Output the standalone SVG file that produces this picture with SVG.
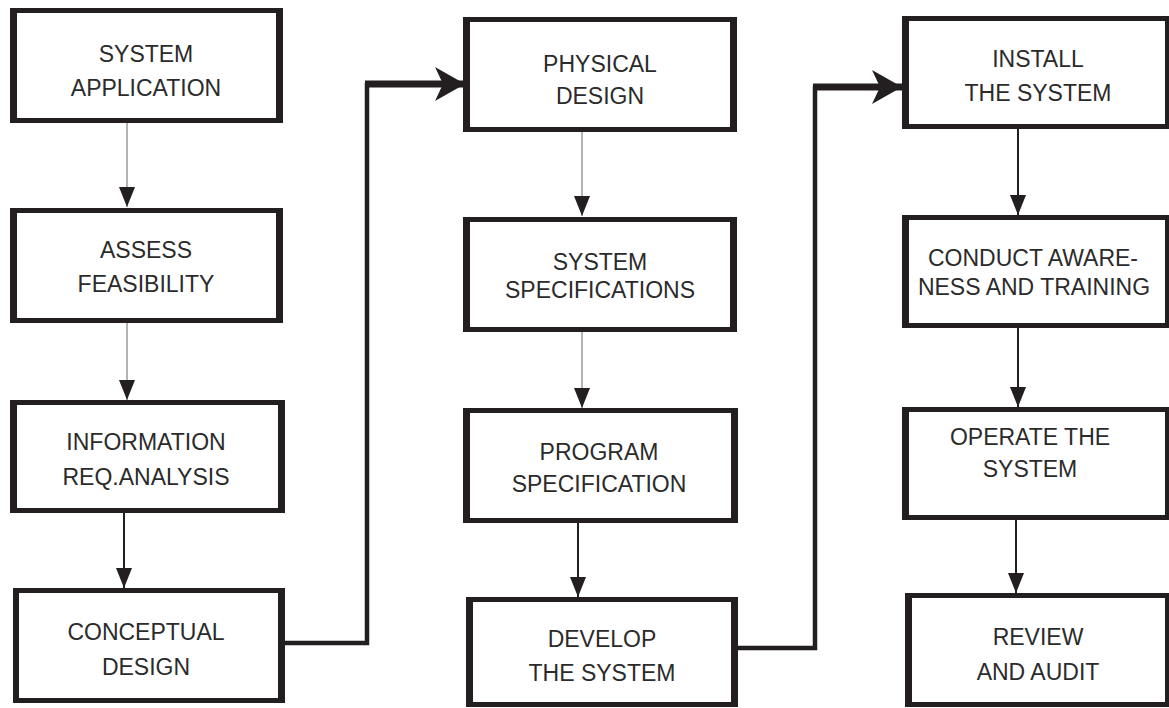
<svg xmlns="http://www.w3.org/2000/svg" width="1169" height="708" viewBox="0 0 1169 708">
  <defs>
    <style>
      .frame { fill: #231f20; }
      .inner { fill: #ffffff; }
      .label { font-family: "Liberation Sans", Arial, sans-serif; font-size: 23px; fill: #2b2b2b; text-anchor: middle; }
      .thin { stroke: #8a8a8a; stroke-width: 1.3; fill: none; }
      .dark { stroke: #231f20; stroke-width: 2; fill: none; }
      .flow { stroke: #231f20; stroke-width: 4.5; fill: none; stroke-linecap: square; stroke-linejoin: miter; }
      .flow-top { stroke: #231f20; stroke-width: 7; fill: none; }
    </style>
    <marker id="head" viewBox="0 0 20 16" markerWidth="20" markerHeight="16" markerUnits="userSpaceOnUse" refX="20" refY="8" orient="auto">
      <path d="M0,0 L20,8 L0,16 Z" fill="#231f20"/>
    </marker>
    <marker id="bighead" viewBox="0 0 30 34" markerWidth="30" markerHeight="34" markerUnits="userSpaceOnUse" refX="30" refY="17" orient="auto">
      <path d="M0,0 L30,17 L0,34 L8,17 Z" fill="#231f20"/>
    </marker>
  </defs>

  <rect width="1169" height="708" fill="#ffffff"/>

  <!-- connectors -->
  <g id="connectors">
    <line class="thin" x1="127" y1="123" x2="127" y2="207" marker-end="url(#head)"/>
    <line class="thin" x1="127" y1="322" x2="127" y2="400" marker-end="url(#head)"/>
    <line class="dark" x1="124" y1="513" x2="124" y2="588" marker-end="url(#head)"/>

    <line class="thin" x1="582" y1="132" x2="582" y2="216" marker-end="url(#head)"/>
    <line class="thin" x1="582" y1="322" x2="582" y2="408" marker-end="url(#head)"/>
    <line class="dark" x1="578" y1="523" x2="578" y2="597" marker-end="url(#head)"/>

    <line class="dark" x1="1018" y1="129" x2="1018" y2="215" marker-end="url(#head)"/>
    <line class="dark" x1="1018" y1="320" x2="1018" y2="407" marker-end="url(#head)"/>
    <line class="dark" x1="1016" y1="520" x2="1016" y2="593" marker-end="url(#head)"/>

    <!-- CONCEPTUAL DESIGN to PHYSICAL DESIGN -->
    <path class="flow" d="M284,643 H367 V85"/>
    <path class="flow-top" d="M365,84 H465" marker-end="url(#bighead)"/>

    <!-- DEVELOP THE SYSTEM to INSTALL THE SYSTEM -->
    <path class="flow" d="M737,648 H815 V88"/>
    <path class="flow-top" d="M813,87 H902" marker-end="url(#bighead)"/>
  </g>

  <!-- column 1 -->
  <g id="system-application">
    <rect class="frame" x="10" y="8" width="273" height="115"/>
    <rect class="inner" x="17" y="13" width="259" height="105"/>
    <text class="label" x="146" y="62">SYSTEM</text>
    <text class="label" x="146" y="96">APPLICATION</text>
  </g>
  <g id="assess-feasibility">
    <rect class="frame" x="10" y="208" width="273" height="115"/>
    <rect class="inner" x="17" y="213" width="259" height="105"/>
    <text class="label" x="146" y="258">ASSESS</text>
    <text class="label" x="146" y="292">FEASIBILITY</text>
  </g>
  <g id="information-analysis">
    <rect class="frame" x="10" y="400" width="275" height="113"/>
    <rect class="inner" x="17" y="405" width="261" height="103"/>
    <text class="label" x="146" y="450">INFORMATION</text>
    <text class="label" x="146" y="485">REQ.ANALYSIS</text>
  </g>
  <g id="conceptual-design">
    <rect class="frame" x="13" y="588" width="272" height="115"/>
    <rect class="inner" x="19" y="593" width="259" height="105"/>
    <text class="label" x="146" y="640">CONCEPTUAL</text>
    <text class="label" x="146" y="675">DESIGN</text>
  </g>

  <!-- column 2 -->
  <g id="physical-design">
    <rect class="frame" x="463" y="17" width="274" height="115"/>
    <rect class="inner" x="470" y="22" width="260" height="105"/>
    <text class="label" x="600" y="72">PHYSICAL</text>
    <text class="label" x="600" y="104">DESIGN</text>
  </g>
  <g id="system-specifications">
    <rect class="frame" x="463" y="217" width="274" height="115"/>
    <rect class="inner" x="470" y="222" width="260" height="105"/>
    <text class="label" x="600" y="270">SYSTEM</text>
    <text class="label" x="600" y="298">SPECIFICATIONS</text>
  </g>
  <g id="program-specification">
    <rect class="frame" x="463" y="408" width="275" height="115"/>
    <rect class="inner" x="470" y="413" width="261" height="105"/>
    <text class="label" x="599" y="460">PROGRAM</text>
    <text class="label" x="599" y="492">SPECIFICATION</text>
  </g>
  <g id="develop-system">
    <rect class="frame" x="466" y="597" width="272" height="110"/>
    <rect class="inner" x="473" y="602" width="258" height="100"/>
    <text class="label" x="602" y="647">DEVELOP</text>
    <text class="label" x="602" y="681">THE SYSTEM</text>
  </g>

  <!-- column 3 -->
  <g id="install-system">
    <rect class="frame" x="902" y="16" width="270" height="113"/>
    <rect class="inner" x="909" y="21" width="256" height="103"/>
    <text class="label" x="1038" y="67">INSTALL</text>
    <text class="label" x="1038" y="101">THE SYSTEM</text>
  </g>
  <g id="awareness-training">
    <rect class="frame" x="902" y="215" width="270" height="113"/>
    <rect class="inner" x="909" y="220" width="256" height="103"/>
    <text class="label" x="1033" y="266">CONDUCT AWARE-</text>
    <text class="label" x="1034" y="295">NESS AND TRAINING</text>
  </g>
  <g id="operate-system">
    <rect class="frame" x="902" y="407" width="270" height="113"/>
    <rect class="inner" x="909" y="412" width="256" height="103"/>
    <text class="label" x="1030" y="445">OPERATE THE</text>
    <text class="label" x="1030" y="477">SYSTEM</text>
  </g>
  <g id="review-audit">
    <rect class="frame" x="905" y="593" width="267" height="114"/>
    <rect class="inner" x="912" y="598" width="253" height="104"/>
    <text class="label" x="1038" y="645">REVIEW</text>
    <text class="label" x="1038" y="680">AND AUDIT</text>
  </g>
</svg>
